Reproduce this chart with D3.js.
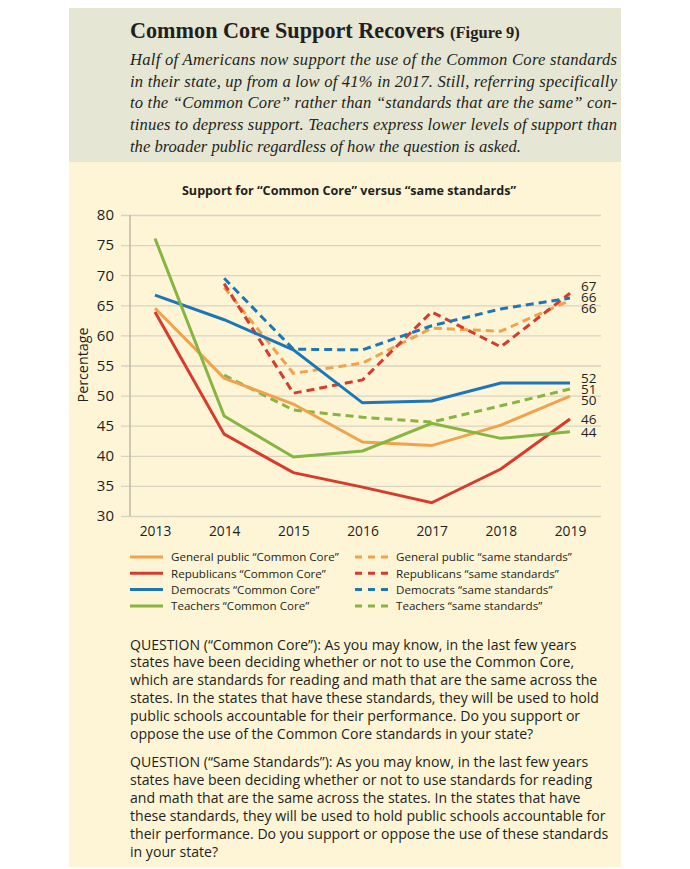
<!DOCTYPE html>
<html>
<head>
<meta charset="utf-8">
<script src="https://cdn.jsdelivr.net/npm/d3@7"></script>
<style>
  body { margin: 0; background: #fff; }
  svg text { font-family: "Open Sans", Roboto, sans-serif; fill: #231f20; }
</style>
</head>
<body>
<div id="chart"></div>
<script>
// values
const years = [2013, 2014, 2015, 2016, 2017, 2018, 2019];
const yTicks = [30, 35, 40, 45, 50, 55, 60, 65, 70, 75, 80];

const gpCC    = [64.5, 52.9, 48.6, 42.3, 41.7, 45.1, 49.9];
const repCC   = [63.9, 43.6, 37.2, 34.8, 32.2, 37.8, 46.1];
const demCC   = [66.7, 62.6, 57.6, 48.8, 49.1, 52.1, 52.1];
const teachCC = [76.1, 46.6, 39.8, 40.8, 45.4, 42.9, 44.0];

const gpSS    = [null, 68.0, 53.7, 55.4, 61.2, 60.7, 65.8];
const repSS   = [null, 68.6, 50.4, 52.6, 63.9, 58.1, 67.0];
const demSS   = [null, 69.5, 57.7, 57.6, 61.6, 64.4, 66.2];
const teachSS = [null, 53.4, 47.6, 46.4, 45.6, 48.3, 51.1];

const seriesNames = [
    "General public \u201cCommon Core\u201d", "Republicans \u201cCommon Core\u201d",
    "Democrats \u201cCommon Core\u201d", "Teachers \u201cCommon Core\u201d",
    "General public \u201csame standards\u201d", "Republicans \u201csame standards\u201d",
    "Democrats \u201csame standards\u201d", "Teachers \u201csame standards\u201d"
];

const subtitleLines = [
    "Half of Americans now support the use of the Common Core standards",
    "in their state, up from a low of 41% in 2017. Still, referring specifically",
    "to the \u201cCommon Core\u201d rather than \u201cstandards that are the same\u201d con-",
    "tinues to depress support. Teachers express lower levels of support than",
    "the broader public regardless of how the question is asked."
];

const questionOne = [
    "QUESTION (\u201cCommon Core\u201d): As you may know, in the last few years",
    "states have been deciding whether or not to use the Common Core,",
    "which are standards for reading and math that are the same across the",
    "states. In the states that have these standards, they will be used to hold",
    "public schools accountable for their performance. Do you support or",
    "oppose the use of the Common Core standards in your state?"
];

const questionTwo = [
    "QUESTION (\u201cSame Standards\u201d): As you may know, in the last few years",
    "states have been deciding whether or not to use standards for reading",
    "and math that are the same across the states. In the states that have",
    "these standards, they will be used to hold public schools accountable for",
    "their performance. Do you support or oppose the use of these standards",
    "in your state?"
];

const orange = "#f0a24c", red = "#d83a2b", blue = "#1c76b8", green = "#87b541";

const series = [
    {name: seriesNames[0], values: gpCC, color: orange, dashed: false},
    {name: seriesNames[1], values: repCC, color: red, dashed: false},
    {name: seriesNames[2], values: demCC, color: blue, dashed: false},
    {name: seriesNames[3], values: teachCC, color: green, dashed: false},
    {name: seriesNames[4], values: gpSS, color: orange, dashed: true},
    {name: seriesNames[5], values: repSS, color: red, dashed: true},
    {name: seriesNames[6], values: demSS, color: blue, dashed: true},
    {name: seriesNames[7], values: teachSS, color: green, dashed: true}
];

const W = 690, H = 869;
const svg = d3.select("#chart").append("svg").attr("width", W).attr("height", H);

// panels
svg.append("rect").attr("x", 69).attr("y", 8).attr("width", 552).attr("height", 154).attr("fill", "#e5e7d4");
svg.append("rect").attr("x", 69).attr("y", 162).attr("width", 552).attr("height", 705).attr("fill", "#fef5d6");

// heading
const head = svg.append("text").attr("x", 130).attr("y", 38)
    .style("font-family", "'Liberation Serif', serif").style("font-weight", "bold");
head.append("tspan").attr("font-size", 22.2).text("Common Core Support Recovers ");
head.append("tspan").attr("font-size", 16.5).text("(Figure 9)");

svg.append("g").selectAll("text").data(subtitleLines).join("text")
    .attr("x", 130)
    .attr("y", (d, i) => 65 + i * 21.7)
    .attr("font-size", 16.6)
    .style("font-family", "'Liberation Serif', serif")
    .style("font-style", "italic")
    .attr("textLength", (d, i) => i < subtitleLines.length - 1 ? 487 : null)
    .attr("lengthAdjust", "spacing")
    .text(d => d);

// chart
const x = d3.scalePoint().domain(years).range([155, 570]);
const y = d3.scaleLinear().domain([30, 80]).range([516, 215]);

svg.append("text").attr("x", 349).attr("y", 195).attr("text-anchor", "middle")
    .attr("font-size", 12.6).attr("font-weight", "bold")
    .text("Support for \u201cCommon Core\u201d versus \u201csame standards\u201d");

const yAxis = svg.append("g").attr("transform", "translate(130,0)")
    .call(d3.axisLeft(y).tickValues(yTicks).tickSize(9).tickPadding(7));
yAxis.select(".domain").remove();
yAxis.selectAll(".tick line").attr("x2", 471).attr("x1", -9)
    .attr("stroke", "#d9d3c1").attr("stroke-width", 1.3);
yAxis.selectAll(".tick text").attr("font-size", 15)
    .style("font-family", "'Open Sans', sans-serif").attr("fill", "#231f20");

svg.append("line").attr("x1", 130).attr("x2", 130).attr("y1", y(80)).attr("y2", y(30))
    .attr("stroke", "#bdb7a8").attr("stroke-width", 1.5);

const xAxis = svg.append("g").attr("transform", "translate(0," + (y(30) + 4) + ")")
    .call(d3.axisBottom(x).tickSize(0).tickPadding(6));
xAxis.select(".domain").remove();
xAxis.selectAll(".tick text").attr("font-size", 13.8)
    .style("font-family", "'Open Sans', sans-serif").attr("fill", "#231f20");

svg.append("text").attr("transform", "translate(88,365) rotate(-90)")
    .attr("text-anchor", "middle").attr("font-size", 14.3).text("Percentage");

const line = d3.line()
    .defined(d => d.v != null)
    .x(d => x(d.year))
    .y(d => y(d.v));

const drawOrder = [4, 5, 6, 7, 0, 1, 2, 3];
svg.append("g").selectAll("path").data(drawOrder.map(i => series[i])).join("path")
    .attr("d", s => line(years.map((yr, j) => ({year: yr, v: s.values[j]}))))
    .attr("fill", "none")
    .attr("stroke", s => s.color)
    .attr("stroke-width", 3)
    .attr("stroke-dasharray", s => s.dashed ? "8,5" : null);

// end labels, pushed apart so they do not overlap
let ends = series.map(s => ({v: s.values[s.values.length - 1]}));
ends.forEach(e => e.pos = y(e.v));
ends.sort((a, b) => a.pos - b.pos);
for (let k = 0; k < 50; k++) {
    for (let i = 1; i < ends.length; i++) {
        const gap = ends[i].pos - ends[i - 1].pos;
        if (gap < 11) {
            const shift = (11 - gap) / 2;
            ends[i].pos += shift;
            ends[i - 1].pos -= shift;
        }
    }
}
svg.append("g").selectAll("text").data(ends).join("text")
    .attr("x", 581).attr("y", d => d.pos + 5)
    .attr("font-size", 13.5)
    .text(d => Math.round(d.v));

// legend
const legend = svg.append("g");
series.forEach((s, i) => {
    const col = s.dashed ? 1 : 0;
    const row = i % 4;
    const lx = col ? 355 : 130;
    const ly = 557 + row * 16.3;
    legend.append("line").attr("x1", lx).attr("x2", lx + 33).attr("y1", ly).attr("y2", ly)
        .attr("stroke", s.color).attr("stroke-width", 3)
        .attr("stroke-dasharray", s.dashed ? "7,6" : null);
    legend.append("text").attr("x", lx + 41).attr("y", ly + 4.3)
        .attr("font-size", 11.6).text(s.name);
});

// question text
function para(lines, top, step) {
    svg.append("g").selectAll("text").data(lines).join("text")
        .attr("x", 130)
        .attr("y", (d, i) => top + i * step)
        .attr("font-size", 14.1)
        .text(d => d);
}
para(questionOne, 649.5, 17.8);
para(questionTwo, 767, 18);
</script>
</body>
</html>
